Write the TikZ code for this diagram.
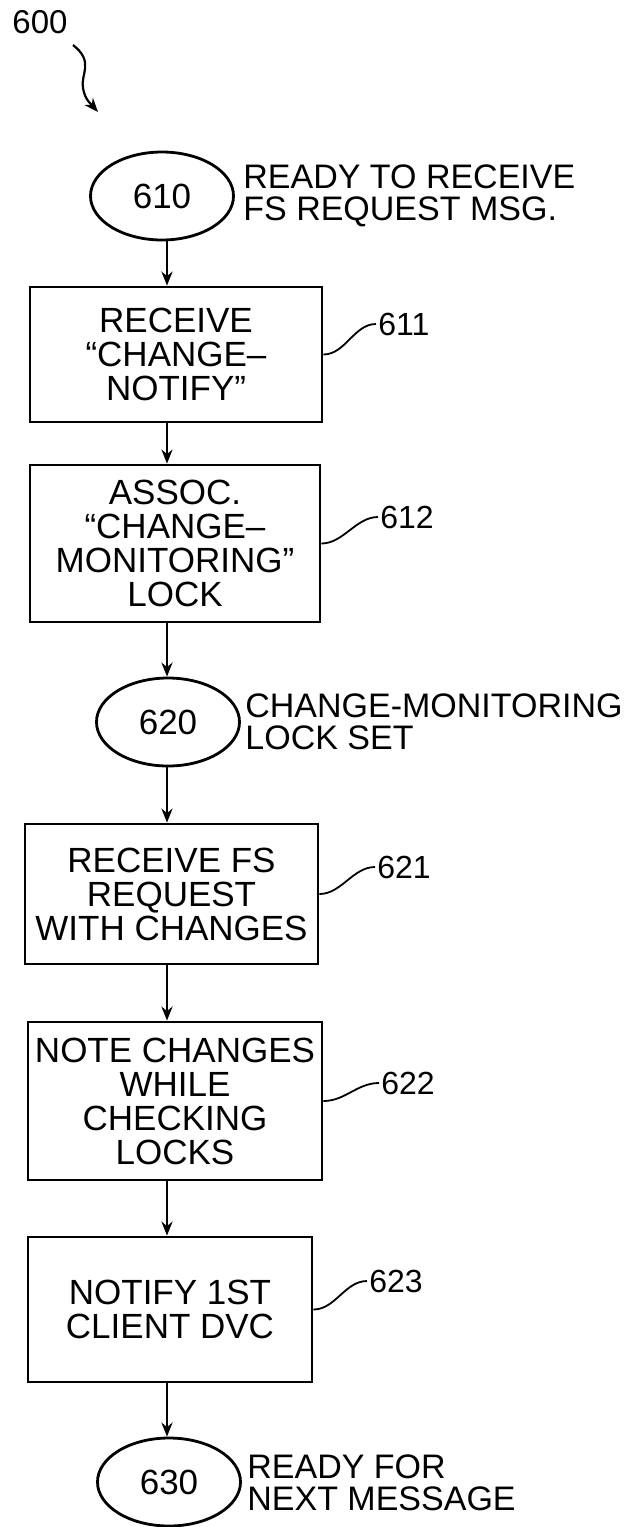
\documentclass[tikz,border=0pt]{standalone}
\usepackage{fontspec}
\setmainfont{Liberation Sans}
\usetikzlibrary{shapes.geometric,arrows.meta}
\begin{document}
\begin{tikzpicture}[x=1pt,y=-1pt,
  line width=2.8pt,
  stepbox/.style={draw, rectangle, inner sep=0pt, align=center,
    font=\fontsize{35}{34}\selectfont},
  statenode/.style={draw, ellipse, inner sep=0pt, minimum width=143pt,
    minimum height=88pt, font=\fontsize{35}{34}\selectfont},
  statelabel/.style={anchor=west, align=left, inner sep=0pt,
    font=\fontsize{34}{32}\selectfont},
  reflabel/.style={anchor=west, inner sep=0pt, font=\fontsize{32}{32}\selectfont},
  arr/.style={-{Stealth[length=14pt,width=11pt]}},
  leader/.style={line width=1.8pt}
]
\useasboundingbox (0,0) rectangle (633,1527);

% figure number
\node[inner sep=0pt, font=\fontsize{33}{33}\selectfont] (n600) at (40,22) {600};
\coordinate (s0) at (73,45);
\coordinate (s1) at (98,112);
\draw[arr, line width=2.2pt] (s0) .. controls (95,62) and (80,75) .. (83,88)
  .. controls (85,100) and (91,104) .. (s1);

% x of the vertical arrows
\coordinate (ax) at (167,0);

% states and steps
\node[statenode] (e610) at (162,196) {610};
\node[statelabel] (t610) at (242,196) {READY TO RECEIVE\\FS REQUEST MSG.};

\node[stepbox, minimum width=292pt, minimum height=135pt] (b611) at (176,354.5)
  {RECEIVE\\“CHANGE–\\NOTIFY”};
\node[reflabel] (l611) at (377,324) {611};

\node[stepbox, minimum width=290pt, minimum height=157pt] (b612) at (175,543.5)
  {ASSOC.\\“CHANGE–\\MONITORING”\\LOCK};
\node[reflabel] (l612) at (379,517) {612};

\node[statenode] (e620) at (168,722) {620};
\node[statelabel] (t620) at (244,722) {CHANGE-MONITORING\\LOCK SET};

\node[stepbox, minimum width=293pt, minimum height=140pt] (b621) at (171.5,894)
  {RECEIVE FS\\REQUEST\\WITH CHANGES};
\node[reflabel] (l621) at (376,867) {621};

\node[stepbox, minimum width=294pt, minimum height=158pt] (b622) at (175,1101)
  {NOTE CHANGES\\WHILE\\CHECKING\\LOCKS};
\node[reflabel] (l622) at (380,1083) {622};

\node[stepbox, minimum width=284pt, minimum height=145pt] (b623) at (170,1309.5)
  {NOTIFY 1ST\\CLIENT DVC};
\node[reflabel] (l623) at (368,1281) {623};

\node[statenode] (e630) at (169,1482) {630};
\node[statelabel] (t630) at (246,1483) {READY FOR\\NEXT MESSAGE};

% flow arrows
\draw[arr] (e610.south -| ax) -- (b611.north -| ax);
\draw[arr] (b611.south -| ax) -- (b612.north -| ax);
\draw[arr] (b612.south -| ax) -- (e620.north -| ax);
\draw[arr] (e620.south -| ax) -- (b621.north -| ax);
\draw[arr] (b621.south -| ax) -- (b622.north -| ax);
\draw[arr] (b622.south -| ax) -- (b623.north -| ax);
\draw[arr] (b623.south -| ax) -- (e630.north -| ax);

% reference leaders
\foreach \b/\l in {b611/l611, b612/l612, b621/l621, b622/l622, b623/l623}{
  \draw[leader] (\b.east) .. controls +(22,0) and +(-22,0) .. ([xshift=-1pt]\l.west);
}
\end{tikzpicture}
\end{document}
